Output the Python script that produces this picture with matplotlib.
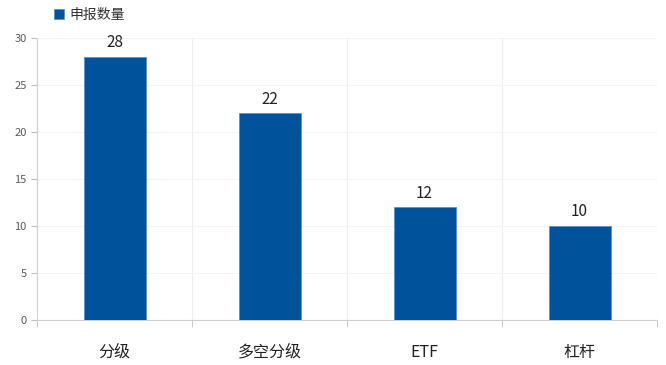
import matplotlib
matplotlib.use("Agg")
import matplotlib.pyplot as plt
import numpy as np

plt.rcParams['font.family'] = ['Noto Sans CJK SC', 'DejaVu Sans']

categories = ["分级", "多空分级", "ETF", "杠杆"]
counts = [28, 22, 12, 10]
series_name = "申报数量"

BAR_COLOR = "#00529B"

fig = plt.figure(figsize=(6.66, 3.65), dpi=100)
ax = fig.add_axes([0.0556, 0.1233, 0.931, 0.7726])

x = np.arange(len(categories))
bars = ax.bar(x, counts, width=0.4, color=BAR_COLOR, edgecolor="#5B8FD0",
              linewidth=0.6, label=series_name, zorder=3)

for xi, v in zip(x, counts):
    ax.text(xi, v + 0.6, str(v), ha="center", va="bottom", fontsize=11,
            color="#222222")

ax.set_xlim(-0.5, len(categories) - 0.5)
ax.set_ylim(0, 30)
ax.set_yticks(range(0, 31, 5))
ax.tick_params(axis="y", labelsize=8, colors="#595959", length=4, color="#BFBFBF")
ax.set_xticks(x)
ax.set_xticklabels(categories, fontsize=11.5, color="#222222")
ax.tick_params(axis="x", length=0, pad=17)

# category boundary ticks and vertical grid
bounds = np.arange(len(categories) + 1) - 0.5
ax.set_xticks(bounds, minor=True)
ax.tick_params(axis="x", which="minor", length=5, color="#BFBFBF")
for b in bounds[1:]:
    ax.axvline(b, color="#EEEEEE", lw=0.8, zorder=1)
ax.yaxis.grid(True, color="#F3F3F3", lw=0.8, zorder=1)

for s in ["top", "right"]:
    ax.spines[s].set_visible(False)
ax.spines["left"].set_color("#D0D0D0")
ax.spines["bottom"].set_color("#D0D0D0")

leg = fig.legend(handles=[bars], labels=[series_name], loc="upper left",
                 bbox_to_anchor=(0.062, 1.012), frameon=False, fontsize=10,
                 handlelength=0.7, handleheight=0.7, handletextpad=0.4)
for t in leg.get_texts():
    t.set_color("#333333")

fig.savefig("out.png", dpi=100)
